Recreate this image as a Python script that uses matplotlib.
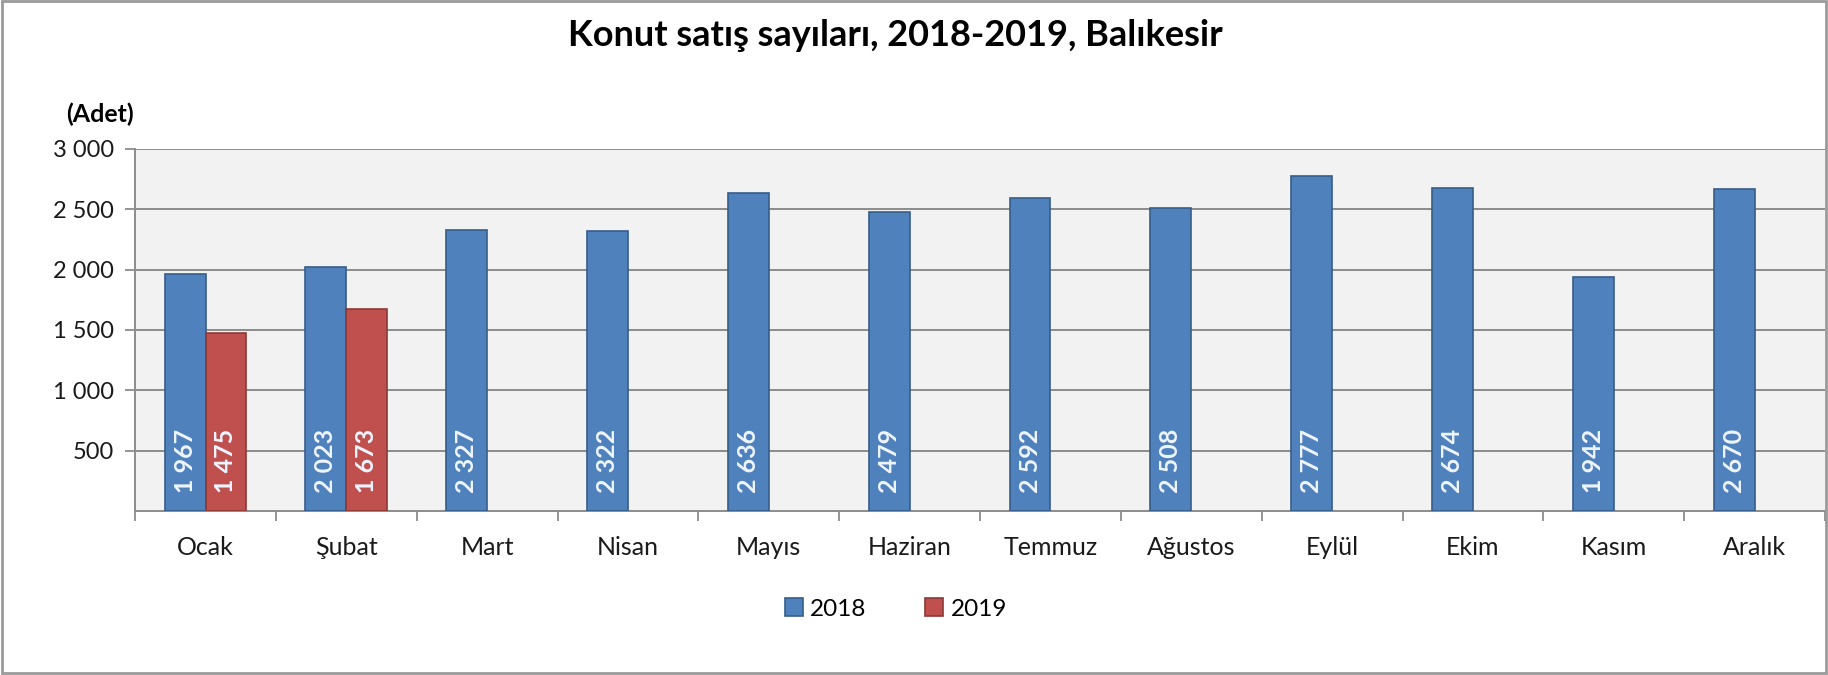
import numpy as np
import matplotlib.pyplot as plt
from matplotlib.patches import Rectangle

plt.rcParams['font.family'] = ['Lato', 'DejaVu Sans']

# data
months = ['Ocak', 'Şubat', 'Mart', 'Nisan', 'Mayıs', 'Haziran',
          'Temmuz', 'Ağustos', 'Eylül', 'Ekim', 'Kasım', 'Aralık']
sales_2018 = [1967, 2023, 2327, 2322, 2636, 2479, 2592, 2508, 2777, 2674, 1942, 2670]
sales_2019 = [1475, 1673]
yticks = [500, 1000, 1500, 2000, 2500, 3000]

blue = '#4F81BD'
blue_edge = '#385D8A'
red = '#C0504D'
red_edge = '#8C3836'
grid_col = '#8C8C8C'

def fmt(v):
    return '{:,}'.format(v).replace(',', ' ')

fig = plt.figure(figsize=(18.28, 6.75), dpi=100)
ax = fig.add_axes([0.0739, 0.2430, 0.9245, 0.5363])
ax.set_facecolor('#F2F2F2')

x = np.arange(len(months))
w = 0.29
b1 = ax.bar(x - w / 2, sales_2018, w, color=blue, edgecolor=blue_edge, lw=1.2,
            label='2018', zorder=3)
b2 = ax.bar(x[:len(sales_2019)] + w / 2, sales_2019, w, color=red, edgecolor=red_edge,
            lw=1.2, label='2019', zorder=3)

for bars, vals in ((b1, sales_2018), (b2, sales_2019)):
    for rect, v in zip(bars, vals):
        ax.text(rect.get_x() + rect.get_width() / 2, 150, fmt(v), rotation=90,
                ha='center', va='bottom', color='#EEF5FF', fontsize=18,
                fontweight='bold', zorder=4)

ax.set_xlim(-0.5, len(months) - 0.5)
ax.set_ylim(0, 3000)
ax.set_yticks(yticks)
ax.set_yticklabels([fmt(t) for t in yticks], fontsize=17, color='#1a1a1a')
ax.yaxis.grid(True, color=grid_col, lw=1.4, zorder=0)
ax.set_axisbelow(True)

# category ticks on boundaries, labels at centers
ax.set_xticks(np.arange(-0.5, len(months), 1.0))
ax.set_xticklabels([])
ax.set_xticks(x, minor=True)
ax.set_xticklabels(months, minor=True, fontsize=18, color='#1a1a1a')
ax.tick_params(axis='x', which='minor', length=0, pad=18)
ax.tick_params(axis='x', which='major', length=7, color=grid_col, width=1.3)
ax.tick_params(axis='y', length=7, color=grid_col, width=1.3, pad=8)

for s in ['top', 'right']:
    ax.spines[s].set_visible(False)
for s in ['left', 'bottom']:
    ax.spines[s].set_color(grid_col)
    ax.spines[s].set_linewidth(1.4)

fig.text(0.4896, 0.948, 'Konut satış sayıları, 2018-2019, Balıkesir', ha='center',
         va='center', fontsize=26, fontweight='bold')
fig.text(0.0547, 0.830, '(Adet)', ha='center', va='center', fontsize=18,
         fontweight='bold')

fig.legend(handles=[b1, b2], labels=['2018', '2019'], loc='center',
           bbox_to_anchor=(0.49, 0.098), ncol=2, frameon=False, fontsize=17.5,
           handlelength=0.75, handleheight=0.75, handletextpad=0.3,
           columnspacing=2.4)

# outer chart border
fig.patches.append(Rectangle((0.001, 0.003), 0.998, 0.995, transform=fig.transFigure,
                             fill=False, edgecolor='#9a9a9a', lw=2))

fig.savefig('out.png', dpi=100)
